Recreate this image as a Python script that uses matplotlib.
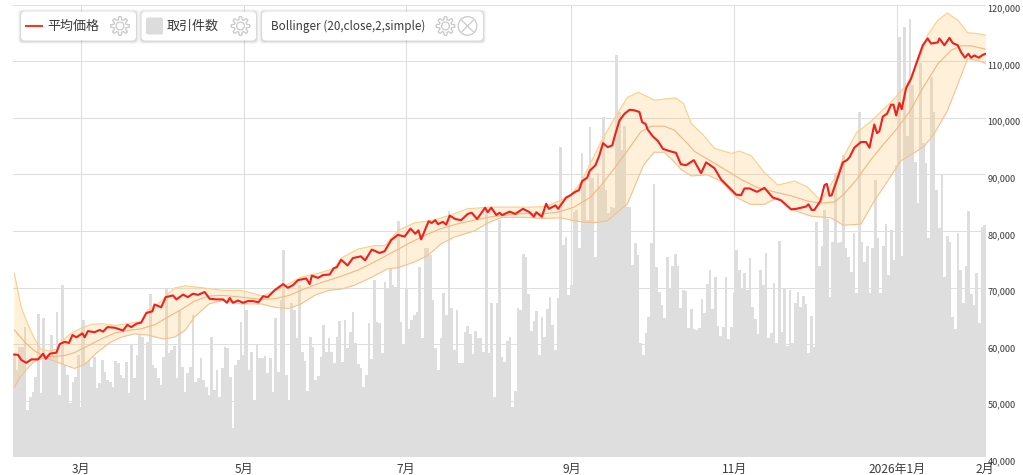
#!/usr/bin/env python3
"""Average price with volume bars and Bollinger bands (values read off the picture)."""
import matplotlib
matplotlib.use("Agg")
import matplotlib.pyplot as plt
import numpy as np
from matplotlib.patches import Circle, FancyBboxPatch, Polygon

plt.rcParams["font.family"] = ["Noto Sans CJK JP", "DejaVu Sans"]

W, H = 1023, 475

# daily volume, arbitrary units (the chart has no axis for it)
volumes = [
    312, 262, 332, 332, 392, 142, 182, 197, 242, 430, 192, 417, 307, 307, 367, 307, 435, 187, 517, 277,
    247, 162, 227, 242, 307, 152, 412, 287, 292, 272, 302, 207, 222, 292, 257, 232, 227, 212, 289, 282,
    247, 237, 287, 192, 337, 239, 307, 367, 362, 172, 347, 489, 277, 267, 237, 217, 302, 509, 312, 322,
    334, 237, 442, 272, 197, 252, 272, 427, 227, 237, 297, 232, 212, 187, 362, 202, 262, 182, 267, 332,
    327, 242, 89, 277, 292, 405, 307, 442, 262, 317, 172, 337, 297, 299, 304, 252, 299, 197, 417, 257,
    472, 622, 247, 172, 462, 442, 359, 517, 317, 289, 199, 362, 332, 232, 245, 302, 397, 317, 357, 317,
    282, 362, 409,
    287, 412, 327, 377, 435, 344, 279, 267, 212, 247, 402, 295, 532, 407, 402, 314, 527, 507, 567, 517,
    512, 710, 407, 337, 505, 384, 412, 427, 437, 570, 357, 627, 627, 607, 472, 327, 262, 357, 492, 427,
    740, 447, 322, 442, 284, 282, 377, 394, 369, 310, 380, 357, 357, 315, 742, 312, 462, 182, 464, 712,
    300, 287, 349, 360, 152, 200, 447, 442, 610, 602, 490, 380, 410, 439, 307, 420, 362, 444, 482, 397,
    322, 477,
    930, 637, 660, 487, 517, 737, 742, 627, 914, 832, 712, 992, 837, 602, 852, 812, 1020, 802, 732, 752,
    747, 1207, 1037, 922, 994, 752, 752, 577, 644, 607, 342, 307, 372, 422, 644, 820, 572, 497, 457, 417,
    600, 507,
    574, 610, 574, 447, 502, 499, 389, 444, 384, 382, 387, 474, 434, 520, 562, 445, 542, 394, 365, 392,
    542, 355, 392, 492, 622, 562, 504, 552, 502, 597, 452, 414, 370, 562, 517, 612, 357, 374, 522, 342,
    650, 377, 505, 334, 502, 344, 462, 497, 450, 485, 459, 314, 425, 332, 707, 574, 634, 742, 714,
    482, 647, 852, 642, 645, 907, 627, 602, 557, 672, 494, 1037, 647, 587, 634, 492, 627, 832, 657, 494,
    634, 699, 547, 682, 592, 877, 1260, 604, 1292, 964, 1314, 1117, 887, 764, 1182, 942, 882, 657, 1142, 1037,
    802, 687, 847, 542, 664, 647, 422, 384, 672, 562, 462, 574, 739, 490, 457, 552, 404, 692, 697,
]

price_days = [
    0, 1.4, 2.6, 4.5, 6.4, 8.9, 10.8, 11.8, 13.3, 15.8, 17, 18.9, 20.5, 21.8, 23.3, 25.5, 26.4, 27.6, 30.1, 32,
    33.3, 34.9, 37.6, 40.8, 42.4, 43.9, 45.8, 47.6, 49.5, 51.8, 52.6, 55.1, 56.8, 59.5, 60.8, 63.3, 65.1, 67, 68.9, 71.4,
    73.3, 75.8, 78.3, 79.8, 80.8, 82, 83.9, 85.8, 87.6, 89.5, 91.6, 93.3, 95.1, 97.6, 100.8, 102.6, 104.5, 106.4, 109.5, 110.8,
    111.6, 113.9, 115.8, 118.3, 119.8, 121, 122.6, 125, 127, 130, 131.6, 134.1, 137, 138.9, 141.4, 143.9, 146.4, 148.6, 150.4, 151.6,
    152.6, 155.4, 156.6, 157.9, 158.9, 160.8, 162, 163.3, 165.4, 167.6, 170.1, 171.6, 173.6, 176.6, 177.6, 178.9, 180.8, 182, 183, 185.8,
    187.9, 190.8, 193.3, 194.9, 195.8, 197.9, 199.5, 200.5, 203, 204, 207, 208.3, 210.4, 211.8, 213, 214.9, 215.8, 218, 219.5, 220.8,
    222.6, 224.3, 225.5, 227, 228.9, 230.8, 232.6, 234.5, 235.5, 236.8, 237.6, 239.5, 241.4, 243.3, 245.8, 248.2, 250, 252, 254.9, 257.6,
    259.5, 262.6, 265.1, 268.9, 270.8, 272.6, 273.9, 275.8, 278.6, 281.4, 284.5, 287.6, 291.4, 293.3, 297, 297.9, 299.1, 300.1, 302.4, 303.9,
    304.8, 305.8, 306.6, 309.1, 310.8, 312.3, 313.3, 315.1, 317.6, 319.5, 320.8, 322.6, 323.6, 324.5, 325.8, 327.4, 328.9, 329.8, 330.8, 332,
    332.9, 334.5, 336.4, 338.3, 340.8, 342.6, 343.9, 346.4, 347, 348.9, 350.8, 352, 353.9, 355.1, 356.6, 357.9, 358.9, 360.1, 361.8, 363.3, 364.4,
]
price_k = [
    58.15, 58.1, 57.2, 56.7, 57.3, 57.3, 58.3, 57.4, 58.3, 58.5, 60, 60.4, 60.2, 61.6, 61.2, 61.9, 61.2, 62.3, 62.1, 62.5,
    62.2, 63, 62.9, 62.4, 63.4, 63, 63.6, 63.8, 65.5, 65.8, 67, 66.5, 68.3, 68.6, 67.9, 68.75, 68.3, 68.9, 68.7, 69.2,
    68, 67.9, 67.9, 67.3, 68.15, 67.3, 67.7, 67.3, 67.6, 67.6, 67.4, 68.45, 68.3, 69.5, 70.6, 69.95, 70.4, 71.3, 71.6, 70.6,
    72.1, 71.7, 72.2, 72.3, 73.4, 73.6, 74.9, 73.9, 75.2, 75.5, 74.8, 76.7, 76.1, 76.4, 78.4, 79.3, 79, 80.4, 79.5, 80.1,
    78.5, 81.7, 81.4, 81.9, 81.2, 81.6, 81.1, 82.7, 82.1, 81.9, 83, 83.2, 82.1, 84.1, 83.3, 84.1, 82.8, 83.2, 82.8, 83.4,
    83, 83.9, 83.3, 82.5, 83.3, 82.5, 84.8, 83.9, 84.5, 83.9, 85.9, 86.2, 86.9, 87.2, 88.8, 89.4, 90.6, 91.6, 93.4, 95.5,
    94.8, 95.1, 97.2, 99.5, 100.7, 101.4, 101.3, 101, 99.2, 98.9, 97.9, 96.7, 95.9, 94.5, 94.1, 93.8, 91.8, 91.6, 92.5, 90.2,
    92.1, 91.1, 89.1, 87.3, 86.4, 86.3, 87.5, 87.5, 86.9, 87.6, 85.9, 85.4, 83.8, 83.9, 84.3, 84.7, 83.7, 83.7, 85.3, 88.1,
    88.3, 86.2, 86.3, 89.7, 92.1, 92.5, 93, 94.7, 95.7, 95.7, 94.7, 98.8, 97.3, 97.6, 100.2, 100.7, 102.3, 102.3, 100.4, 102.6,
    101.5, 105.2, 106.9, 109.5, 112.8, 114, 113.1, 113.3, 114, 112.8, 114.1, 113.2, 112.8, 111.6, 110.6, 111.3, 110.6, 111, 110.6, 111.1, 111.3,
]

upper_days = [
    0, 1.4, 2.6, 5, 7.6, 10, 13, 16, 18, 21, 25, 29, 33, 38, 47.6, 50, 54, 57, 60, 64,
    68, 73, 78, 85, 90, 93, 98, 103, 108, 114, 120, 122.6, 129, 135, 139, 144, 150, 157, 163, 170,
    178, 185, 193, 199, 205, 209, 212.6, 220, 225, 230, 234, 238, 240, 248, 251, 254, 258, 262.6, 268.9, 272,
    276.4, 281.4, 286.4, 292.6, 297.4, 302.6, 308.6, 311, 316, 321, 330, 335, 340, 342.6, 346.4, 350, 354, 357.6, 360.6, 364.4,
]
upper_k = [
    72.5, 69.2, 66.5, 63.6, 60.9, 59.1, 58.8, 59.1, 60.6, 61.8, 62.8, 63.5, 63.6, 63.3, 64, 66, 67.1, 68.6, 69.9, 70.3,
    70.1, 69.8, 69.5, 69.5, 68.9, 68.5, 69.5, 70.7, 71.9, 72.5, 73.4, 75.2, 76.8, 77.4, 77.4, 80.1, 81.4, 81.9, 82.7, 83.9,
    84.2, 84.2, 84.2, 84.3, 85.4, 86.5, 88.6, 95.7, 99.8, 103.6, 104.5, 103.6, 103.1, 103.5, 102.5, 98.9, 97.2, 94.6, 93.7, 94.1,
    93.3, 90.3, 88.1, 88.8, 87.8, 85.3, 90, 93, 97.4, 99.2, 103.3, 106, 111, 114.6, 117.2, 118.5, 117.2, 115, 114.9, 114.6,
]

lower_days = [
    0, 2, 4.5, 7.6, 11.4, 15, 19, 22.6, 26.4, 31, 36, 40, 45, 50, 56, 60, 64, 67.6, 73, 78,
    85, 92.6, 97.6, 103, 107.6, 112.6, 118, 122.6, 127.6, 134, 140, 144, 150, 155, 160, 165, 172.6, 178, 183, 190.8,
    198, 205, 210, 214, 219, 222.6, 225, 230, 236, 240, 243.8, 247.6, 250, 254, 260, 265, 271, 276, 281.4, 286.4,
    291.4, 299, 306.4, 311, 317.6, 322.6, 327.6, 332.6, 337.6, 341.4, 345, 350, 354, 357.6, 361.4, 364.4,
]
lower_k = [
    52.4, 54, 55.5, 57, 57.6, 57, 56.3, 55.7, 56.4, 58.5, 60.3, 61.2, 61.8, 61.6, 60.9, 61.2, 62.4, 64.8, 67.1, 67.7,
    67.1, 67.1, 66.5, 66.3, 67.1, 68.6, 69.5, 69.7, 70.4, 71.8, 73.3, 73.5, 74.5, 75.6, 77.7, 78.9, 80, 81.5, 82.4, 82.4,
    82.2, 82.3, 81.8, 81.5, 81.5, 81.8, 82.8, 84.8, 91.6, 93.9, 93.9, 92.2, 90.9, 89.7, 89.9, 88.8, 85.9, 84.7, 84.7, 85.9,
    83.8, 82.6, 82.3, 81, 81.2, 85.3, 88.8, 92.4, 93.8, 95, 97.1, 101.2, 106, 110.4, 110.1, 109.6,
]

middle_days = [
    0, 4, 7.6, 11.4, 15, 19, 22.6, 27.6, 33, 38, 42.6, 47.6, 52.6, 57.6, 62.6, 67.6, 73, 78, 85, 92.6,
    97.6, 103, 107.6, 114, 120, 122.6, 129, 135, 141.4, 147.6, 153.9, 160, 166, 172.6, 178.9, 185, 191.4, 197.6, 203.9, 210,
    216, 220, 225, 230, 235, 238.9, 243.8, 247.6, 252.6, 255, 260, 266.4, 272.6, 279, 285, 291.4, 297.4, 302.6, 307.6, 311,
    316, 321, 326, 331, 336, 341, 346.4, 351.4, 355, 358.9, 364.4,
]
middle_k = [
    62.5, 60.3, 58.8, 57.8, 57.8, 58, 58.5, 59.7, 61, 62, 62.4, 62.7, 63.4, 64.8, 66.1, 67.6, 68.5, 68.6, 68.3, 67.9,
    68, 68.6, 69.5, 70.7, 71.6, 72, 73.1, 74.5, 76.1, 77.7, 79.2, 80.4, 81.2, 81.9, 82.5, 82.8, 83.1, 83, 83.3, 84.2,
    85.9, 88, 91, 94.2, 97.5, 98.5, 98.5, 97.8, 95.4, 94.1, 92.7, 90.9, 89.1, 87.6, 86.9, 86.2, 85.3, 84.9, 85.1, 86.4,
    89.1, 92.4, 95.3, 98, 101.2, 105.4, 109.5, 111.9, 112.7, 112.7, 112.1,
]

price_ticks = [40000, 50000, 60000, 70000, 80000, 90000, 100000, 110000, 120000]
month_days = [25, 86, 147, 209, 270, 331, 364]
month_labels = ["3月", "5月", "7月", "9月", "11月", "2026年1月", "2月"]
legend_labels = ["平均価格", "取引件数", "Bollinger (20,close,2,simple)"]

RED = "#ee2020"
BAR = "#dedede"
GRID = "#dedede"
TEXT = "#3a3a3a"
ICON = "#c9c9c9"
VOL_TOP = 1358


def gear(ov, cx, cy, r=9.3, teeth=8):
    # outline of a small cog, drawn in pixel coordinates
    a = np.linspace(0, 2 * np.pi, 161)
    rr = r * (0.84 + 0.16 * np.clip(2.2 * np.cos(teeth * a), -1, 1))
    ov.add_patch(Polygon(np.c_[cx + rr * np.cos(a), cy + rr * np.sin(a)], closed=True,
                         fill=False, ec=ICON, lw=0.9))
    ov.add_patch(Circle((cx, cy), r * 0.42, fill=False, ec=ICON, lw=0.9))


def chip(ov, x0, x1, y0=11.5, y1=40.5):
    # white rounded box with a soft shadow
    for grow, alpha in ((3.0, 0.03), (2.0, 0.05), (1.0, 0.07)):
        ov.add_patch(FancyBboxPatch((x0 - grow, y0 - grow + 0.5), x1 - x0 + 2 * grow, y1 - y0 + 2 * grow,
                                    boxstyle="round,pad=0,rounding_size=4", fc="black", ec="none", alpha=alpha))
    ov.add_patch(FancyBboxPatch((x0, y0), x1 - x0, y1 - y0, boxstyle="round,pad=0,rounding_size=4",
                                fc="white", ec="none"))


fig = plt.figure(figsize=(W / 100, H / 100), dpi=100, facecolor="white")
rect = [13 / W, (H - 457.3) / H, 973 / W, 452.8 / H]

# volume sits on the base axes so the grid stays under the bars
ax_vol = fig.add_axes(rect)
ax_vol.bar(range(len(volumes)), volumes, width=1.0, color=BAR, zorder=2)
ax_vol.set_xlim(-0.5, 364.5)
ax_vol.set_ylim(0, VOL_TOP)
ax_vol.set_yticks(np.linspace(0, VOL_TOP, len(price_ticks)))
ax_vol.set_xticks(month_days, month_labels)
ax_vol.grid(True, color=GRID, lw=0.75, zorder=0)
ax_vol.get_xgridlines()[-1].set_visible(False)
ax_vol.set_axisbelow(True)
ax_vol.tick_params(axis="x", length=0, pad=4, labelsize=8.6, labelcolor=TEXT)
for s in ax_vol.spines.values():
    s.set_visible(False)

ax = ax_vol.twinx()
ax_vol.tick_params(axis="y", left=False, labelleft=False)
px = np.array(price_days)
up_x, up_y = np.array(upper_days), np.array(upper_k) * 1000
lo_x, lo_y = np.array(lower_days), np.array(lower_k) * 1000
ax.fill(np.r_[up_x, lo_x[::-1]], np.r_[up_y, lo_y[::-1]], color="#fdc873", alpha=0.27, lw=0, zorder=1)
ax.plot(up_x, up_y, color="#f9d08a", lw=0.8, zorder=2)
ax.plot(lo_x, lo_y, color="#f5c08e", lw=0.8, zorder=2)
ax.plot(middle_days, np.array(middle_k) * 1000, color="#f4b685", lw=0.8, zorder=2)
ax.plot(px, np.array(price_k) * 1000, color=RED, lw=1.5, zorder=3, solid_joinstyle="round")
ax.set_ylim(40000, 120000)
ax.set_yticks(price_ticks, [f"{v:,}" for v in price_ticks])
ax.tick_params(axis="y", length=0, pad=1, labelsize=6.6, labelcolor=TEXT)
for t in ax.get_yticklabels():
    t.set_va("top")
for s in ax.spines.values():
    s.set_visible(False)

# legend chips, in pixel coordinates
ov = fig.add_axes([0, 0, 1, 1], zorder=5)
ov.set_xlim(0, W)
ov.set_ylim(H, 0)
ov.axis("off")
ov.patch.set_alpha(0)
chip(ov, 21, 136)
chip(ov, 141.5, 256)
chip(ov, 262, 483)
ov.plot([26, 42], [26, 26], color="#f0392b", lw=1.5)
ov.add_patch(FancyBboxPatch((146, 17.5), 17, 17, boxstyle="round,pad=0,rounding_size=2", fc="#dcdcdc", ec="none"))
ov.text(47, 26, legend_labels[0], fontsize=9.4, color=TEXT, va="center")
ov.text(167, 26, legend_labels[1], fontsize=9.4, color=TEXT, va="center")
ov.text(271, 26, legend_labels[2], fontsize=8.4, color=TEXT, va="center")
for cx in (120, 240.5, 445.5):
    gear(ov, cx, 26)
ov.add_patch(Circle((467.5, 26), 9.3, fill=False, ec=ICON, lw=0.9))
ov.plot([462, 473], [20.5, 31.5], color=ICON, lw=0.9)
ov.plot([462, 473], [31.5, 20.5], color=ICON, lw=0.9)

fig.savefig("out.png", dpi=100, facecolor="white")
